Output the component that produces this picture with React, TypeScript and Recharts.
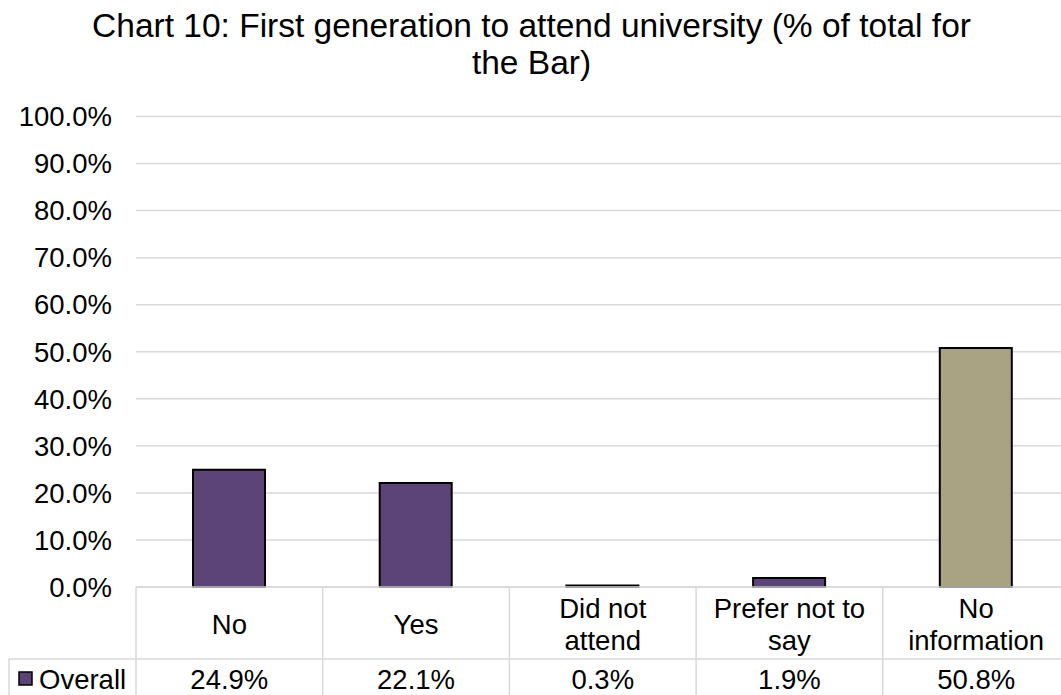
import React from 'react';
import { BarChart, Bar, XAxis, YAxis, CartesianGrid, Cell } from 'recharts';

// Categories along the x axis, with the line breaks used in the data table
const categories = ['No', 'Yes', 'Did not attend', 'Prefer not to say', 'No information'];
const categoryLabels = ['No', 'Yes', 'Did not\nattend', 'Prefer not to\nsay', 'No\ninformation'];
// Share of the total for the Bar, in percent
const overall = [24.9, 22.1, 0.3, 1.9, 50.8];
const yTicks = [0, 10, 20, 30, 40, 50, 60, 70, 80, 90, 100];
const seriesName = 'Overall';
const title = 'Chart 10: First generation to attend university (% of total for the Bar)';

const data = categories.map((category, i) => ({ category, overall: overall[i] }));

// Layout
const CHART_W = 1075;
const CHART_H = 720;
const PLOT_LEFT = 136;
const PLOT_TOP = 116.5;
const PLOT_BOTTOM = 587;
const MARGIN_RIGHT = 5.5;
const COL_W = (CHART_W - PLOT_LEFT - MARGIN_RIGHT) / categories.length;
const LEGEND_LEFT = 9;

const FONT = '"Liberation Sans", Arial, sans-serif';
const PURPLE = '#5C4479';
const KHAKI = '#A9A283';
const GRID = '#D9D9D9';
const barColors = [PURPLE, PURPLE, PURPLE, PURPLE, KHAKI];

const fmtPct = (v: number) => `${v.toFixed(1)}%`;

// Draws one column of the data table under the plot: category name and value
const TableTick = (props: any) => {
  const { x, y, index } = props;
  const left = x - COL_W / 2;
  const lines = categoryLabels[index].split('\n');
  const rowSplit = y + 72;
  const textStyle = { fontFamily: FONT, fontSize: 27.5, fill: '#000' };
  return (
    <g>
      <line x1={left} y1={y} x2={left} y2={CHART_H} stroke={GRID} strokeWidth={1.5} />
      {index === categories.length - 1 && (
        <line x1={left + COL_W} y1={y} x2={left + COL_W} y2={CHART_H} stroke={GRID} strokeWidth={1.5} />
      )}
      <line x1={left} y1={rowSplit} x2={left + COL_W} y2={rowSplit} stroke={GRID} strokeWidth={1.5} />
      {lines.length === 1 ? (
        <text x={x} y={y + 47} textAnchor="middle" {...textStyle}>{lines[0]}</text>
      ) : (
        lines.map((ln: string, k: number) => (
          <text key={k} x={x} y={y + 31 + k * 32} textAnchor="middle" {...textStyle}>{ln}</text>
        ))
      )}
      <text x={x} y={y + 102} textAnchor="middle" {...textStyle}>{fmtPct(overall[index])}</text>
      {index === 0 && (
        <g>
          <line x1={LEGEND_LEFT} y1={rowSplit} x2={left} y2={rowSplit} stroke={GRID} strokeWidth={1.5} />
          <line x1={LEGEND_LEFT} y1={rowSplit} x2={LEGEND_LEFT} y2={CHART_H} stroke={GRID} strokeWidth={1.5} />
          <rect x={19} y={y + 85} width={13} height={13} fill={PURPLE} stroke="#000" strokeWidth={1.5} />
          <text x={39} y={y + 102} textAnchor="start" {...textStyle}>{seriesName}</text>
        </g>
      )}
    </g>
  );
};

export default function App() {
  return (
    <div
      style={{
        position: 'absolute',
        left: 0,
        top: 0,
        width: 1061,
        height: 695,
        overflow: 'hidden',
        background: '#fff',
      }}
    >
      <div
        style={{
          position: 'absolute',
          left: 0,
          top: 7,
          width: 1063,
          textAlign: 'center',
          fontFamily: FONT,
          fontSize: 33.5,
          lineHeight: '37px',
          color: '#000',
        }}
      >
        <div style={{ width: 900, margin: '0 auto' }}>{title}</div>
      </div>
      <BarChart
        width={CHART_W}
        height={CHART_H}
        data={data}
        margin={{ top: PLOT_TOP, right: MARGIN_RIGHT, bottom: 0, left: 0 }}
        style={{ position: 'absolute', left: 0, top: 0 }}
      >
        <CartesianGrid vertical={false} stroke={GRID} strokeWidth={1.5} />
        <YAxis
          width={PLOT_LEFT}
          domain={[0, 100]}
          ticks={yTicks}
          tickFormatter={fmtPct}
          axisLine={false}
          tickLine={false}
          tickSize={0}
          tickMargin={24}
          tick={{ fontFamily: FONT, fontSize: 27.5, fill: '#000' }}
          interval={0}
        />
        <XAxis
          dataKey="category"
          height={CHART_H - PLOT_BOTTOM}
          interval={0}
          axisLine={{ stroke: GRID, strokeWidth: 1.5 }}
          tickLine={false}
          tickSize={0}
          tickMargin={0}
          tick={<TableTick />}
        />
        <Bar dataKey="overall" name={seriesName} barSize={72} stroke="#000" strokeWidth={2} isAnimationActive={false}>
          {data.map((_, i) => (
            <Cell key={i} fill={barColors[i]} />
          ))}
        </Bar>
      </BarChart>
    </div>
  );
}
